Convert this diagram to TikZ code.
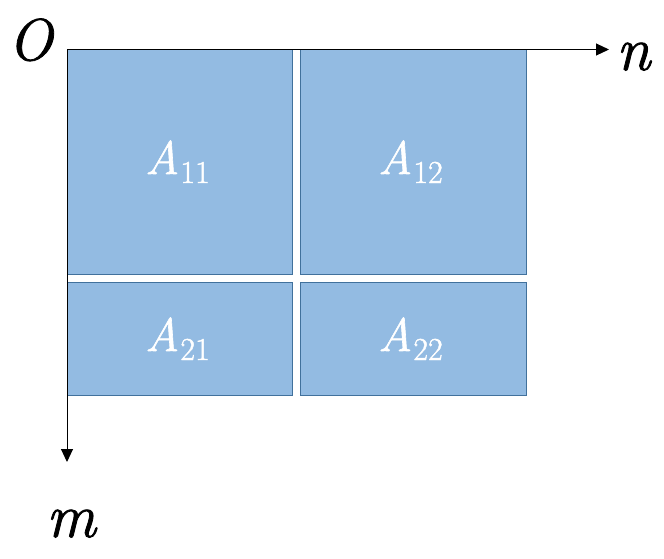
\documentclass[tikz,border=0pt]{standalone}
\usepackage{fontspec}
\setmainfont{Latin Modern Roman}[FakeBold=1.3]
\usetikzlibrary{arrows.meta}
\definecolor{boxfill}{HTML}{93BBE2}
\definecolor{boxline}{HTML}{41719C}
\newcommand{\blk}[2]{{\fontsize{47}{47}\selectfont\itshape A}\hspace{1pt}\raisebox{-9pt}{\fontsize{32}{32}\selectfont #1#2}}
\begin{document}
\begin{tikzpicture}[x=1pt,y=-1pt,
  blockbox/.style={draw=boxline,fill=boxfill,line width=1pt},
  blocklabel/.style={text=white,inner sep=0pt,anchor=base west},
  axislabel/.style={inner sep=0pt,anchor=base west,font=\fontsize{62}{62}\selectfont\itshape},
  axis/.style={draw=black,line width=1pt,-{Triangle[length=13pt,width=12pt]}}]
\useasboundingbox (0,0) rectangle (664,558);
\coordinate (orig) at (67,49.5);
\coordinate (nend) at (609,49.5);
\coordinate (mend) at (67,462);
\node[blockbox,minimum width=225pt,minimum height=225pt,inner sep=0pt,anchor=north west] (b11) at (67,49) {};
\node[blockbox,minimum width=226pt,minimum height=225pt,inner sep=0pt,anchor=north west] (b12) at (300,49) {};
\node[blockbox,minimum width=225pt,minimum height=113pt,inner sep=0pt,anchor=north west] (b21) at (67,282) {};
\node[blockbox,minimum width=226pt,minimum height=113pt,inner sep=0pt,anchor=north west] (b22) at (300,282) {};
\draw[axis] (orig) -- (nend);
\draw[axis] (orig) -- (mend);
\node[blocklabel] (l11) at (145,174) {\blk11};
\node[blocklabel] (l12) at (378,174) {\blk12};
\node[blocklabel] (l21) at (145,351) {\blk21};
\node[blocklabel] (l22) at (378,351) {\blk22};
\node[axislabel,font=\fontsize{59}{59}\selectfont\itshape] (lo) at (8,60) {O};
\node[axislabel] (ln) at (616,70) {n};
\node[axislabel] (lm) at (46,537) {m};
\end{tikzpicture}
\end{document}
